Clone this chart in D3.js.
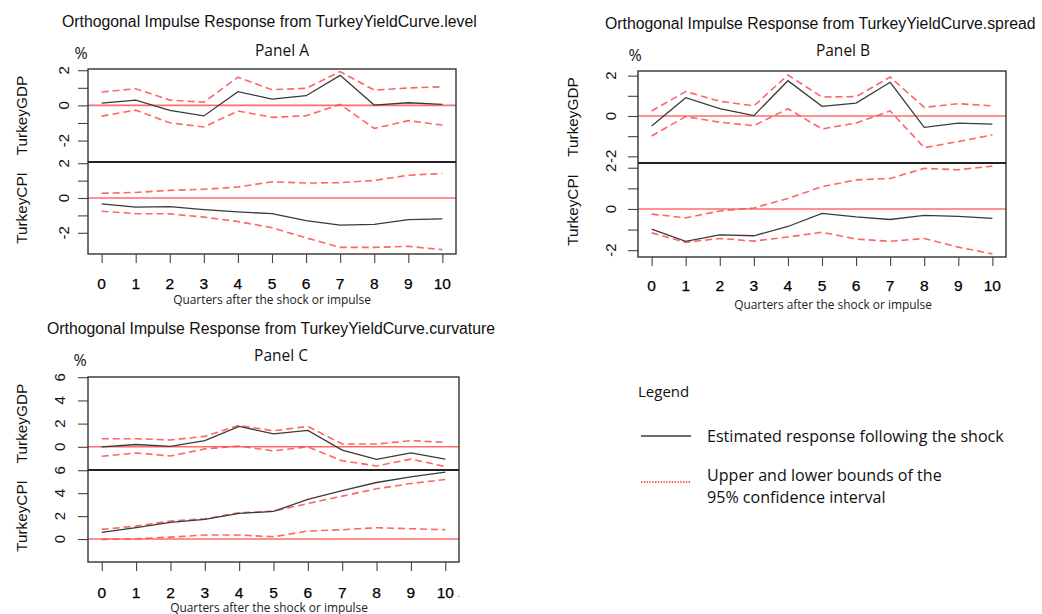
<!DOCTYPE html>
<html>
<head>
<meta charset="utf-8">
<script src="https://cdn.jsdelivr.net/npm/d3@7"></script>
<style>
  html, body { margin: 0; padding: 0; background: #ffffff; }
  svg { display: block; }
</style>
</head>
<body>
<svg id="chart" width="1042" height="614"></svg>
<script>
// Horizon (quarters after the shock)
const quarters = [0, 1, 2, 3, 4, 5, 6, 7, 8, 9, 10];

// Shock to TurkeyYieldCurve.level
const levelGdpResp  = [0.13, 0.30, -0.29, -0.60, 0.78, 0.36, 0.55, 1.71, 0.02, 0.15, 0.06];
const levelGdpUpper = [0.76, 0.95, 0.30, 0.18, 1.60, 0.89, 0.97, 1.92, 0.87, 0.99, 1.06];
const levelGdpLower = [-0.61, -0.27, -0.99, -1.23, -0.32, -0.68, -0.59, 0.06, -1.31, -0.87, -1.12];
const levelCpiResp  = [-0.34, -0.53, -0.50, -0.67, -0.80, -0.90, -1.30, -1.56, -1.52, -1.24, -1.20];
const levelCpiUpper = [0.27, 0.32, 0.44, 0.50, 0.63, 0.93, 0.86, 0.88, 1.01, 1.31, 1.41];
const levelCpiLower = [-0.76, -0.90, -0.91, -1.10, -1.35, -1.71, -2.29, -2.84, -2.84, -2.78, -2.97];

// Shock to TurkeyYieldCurve.spread
const spreadGdpResp  = [-0.50, 0.91, 0.36, 0.02, 1.75, 0.48, 0.64, 1.67, -0.56, -0.35, -0.40];
const spreadGdpUpper = [0.25, 1.21, 0.73, 0.50, 2.03, 0.94, 0.96, 1.93, 0.43, 0.61, 0.50];
const spreadGdpLower = [-0.99, -0.03, -0.31, -0.48, 0.36, -0.64, -0.35, 0.25, -1.57, -1.27, -0.94];
const spreadCpiResp  = [-0.98, -1.57, -1.26, -1.30, -0.85, -0.21, -0.38, -0.51, -0.31, -0.36, -0.46];
const spreadCpiUpper = [-0.25, -0.43, -0.10, 0.05, 0.51, 1.08, 1.41, 1.48, 1.97, 1.90, 2.08];
const spreadCpiLower = [-1.16, -1.62, -1.43, -1.56, -1.36, -1.13, -1.46, -1.57, -1.43, -1.85, -2.18];

// Shock to TurkeyYieldCurve.curvature
const curvGdpResp  = [0.00, 0.20, 0.03, 0.53, 1.76, 1.12, 1.41, -0.29, -1.09, -0.53, -1.06];
const curvGdpUpper = [0.70, 0.70, 0.59, 0.90, 1.85, 1.38, 1.76, 0.24, 0.24, 0.53, 0.38];
const curvGdpLower = [-0.82, -0.53, -0.79, -0.18, 0.06, -0.35, 0.00, -1.20, -1.65, -1.06, -1.70];
const curvCpiResp  = [0.58, 0.99, 1.45, 1.71, 2.23, 2.41, 3.45, 4.23, 4.93, 5.42, 5.83];
const curvCpiUpper = [0.84, 1.13, 1.57, 1.77, 2.29, 2.43, 3.10, 3.74, 4.38, 4.84, 5.19];
const curvCpiLower = [-0.03, 0.03, 0.17, 0.35, 0.35, 0.20, 0.70, 0.81, 0.99, 0.90, 0.81];

// Axis ticks
const ticksLevelSpread  = [-2, -1, 0, 1, 2];
const labelsLevelSpread = [-2, 0, 2];
const ticksCurvature    = [0, 2, 4, 6];
const labelsCurvature   = [0, 2, 4, 6];

// Text
const variableNames = ["TurkeyGDP", "TurkeyCPI"];
const xAxisTitle = "Quarters after the shock or impulse";
const legendTitle = "Legend";
const legendItems = ["Estimated response following the shock", "Upper and lower bounds of the", "95% confidence interval"];

const svg = d3.select("#chart");
const ARIAL = "'Liberation Sans', Arial, sans-serif";
const SEGOE = "'Open Sans', 'Noto Sans', sans-serif";

function fitWidth(sel, w) {
  const node = sel.node();
  const fs = parseFloat(sel.attr("font-size"));
  const len = node.getComputedTextLength();
  if (len > 0) sel.attr("font-size", (fs * w / len).toFixed(2));
  return sel;
}

function drawPanel(p) {
  const g = svg.append("g");
  const x = d3.scaleLinear().domain([-0.4, 10.4]).range([p.left, p.right]);

  // Title and panel label
  g.append("text").attr("x", p.titleX).attr("y", p.titleY)
    .attr("font-family", ARIAL).attr("font-size", 15.8).attr("fill", "#111")
    .attr("dominant-baseline", "central").text(p.title);
  g.append("text").attr("x", p.panelX).attr("y", p.panelY)
    .attr("font-family", SEGOE).attr("font-size", 15.5).attr("fill", "#111")
    .attr("text-anchor", "middle").attr("dominant-baseline", "central").text(p.panel);
  g.append("text").attr("x", p.pctX).attr("y", p.pctY)
    .attr("font-family", SEGOE).attr("font-size", 16).attr("fill", "#111")
    .attr("text-anchor", "middle").attr("dominant-baseline", "central").text("%");

  const bands = [
    { top: p.top, bottom: p.mid, series: p.gdp, name: variableNames[0] },
    { top: p.mid, bottom: p.bottom, series: p.cpi, name: variableNames[1] }
  ];

  bands.forEach(b => {
    const y = d3.scaleLinear().domain(p.yDomain).range([b.bottom, b.top]);

    // zero reference line
    g.append("line")
      .attr("x1", p.left).attr("x2", p.right)
      .attr("y1", y(0)).attr("y2", y(0))
      .attr("stroke", "#ff3b3b").attr("stroke-opacity", 0.75).attr("stroke-width", 1.6);

    const line = d3.line().x((d, i) => x(quarters[i])).y(d => y(d));
    [b.series.upper, b.series.lower].forEach(s => {
      g.append("path").datum(s).attr("d", line)
        .attr("fill", "none").attr("stroke", "#ff4a4a").attr("stroke-opacity", 0.85)
        .attr("stroke-width", 1.6).attr("stroke-dasharray", "7,4");
    });
    g.append("path").datum(b.series.resp).attr("d", line)
      .attr("fill", "none").attr("stroke", "#3a3a3a").attr("stroke-width", 1.3);

    // y axis ticks and rotated labels
    const axis = d3.axisLeft(y).tickValues(p.ticks).tickSize(10).tickFormat("");
    const ag = g.append("g").attr("transform", `translate(${p.left},0)`).call(axis);
    ag.select(".domain").remove();
    ag.selectAll(".tick line").attr("stroke", "#444").attr("stroke-width", 1.1);
    p.labels.forEach(v => {
      g.append("text")
        .attr("transform", `translate(${p.left - p.labelOffset},${y(v)}) rotate(-90)`)
        .attr("font-family", ARIAL).attr("font-size", 15).attr("fill", "#111")
        .attr("text-anchor", "middle").attr("dominant-baseline", "central")
        .text(v);
    });

    // variable name
    g.append("text")
      .attr("transform", `translate(${p.nameX},${(b.top + b.bottom) / 2}) rotate(-90)`)
      .attr("font-family", ARIAL).attr("font-size", 15.3).attr("fill", "#111")
      .attr("text-anchor", "middle").attr("dominant-baseline", "central")
      .text(b.name);
  });

  // frame and divider
  g.append("rect").attr("x", p.left).attr("y", p.top)
    .attr("width", p.right - p.left).attr("height", p.bottom - p.top)
    .attr("fill", "none").attr("stroke", "#333").attr("stroke-width", 1.4);
  g.append("line").attr("x1", p.left).attr("x2", p.right)
    .attr("y1", p.mid).attr("y2", p.mid)
    .attr("stroke", "#222").attr("stroke-width", 1.8);

  // x axis
  const xa = d3.axisBottom(x).tickValues(quarters).tickSize(9).tickFormat("");
  const xg = g.append("g").attr("transform", `translate(0,${p.bottom})`).call(xa);
  xg.select(".domain").remove();
  xg.selectAll(".tick line").attr("stroke", "#444").attr("stroke-width", 1.1);
  quarters.forEach(q => {
    g.append("text").attr("x", x(q)).attr("y", p.bottom + p.xLabelOffset)
      .attr("font-family", ARIAL).attr("font-size", 15.5).attr("fill", "#000")
      .attr("stroke", "#000").attr("stroke-width", 0.25)
      .attr("text-anchor", "middle").attr("dominant-baseline", "central")
      .text(q);
  });
  const xt = g.append("text").attr("x", p.xTitleX).attr("y", p.bottom + p.xTitleOffset)
    .attr("font-family", SEGOE).attr("font-size", 12).attr("fill", "#222")
    .attr("text-anchor", "middle").attr("dominant-baseline", "central")
    .text(xAxisTitle);
  fitWidth(xt, 198);
  return { g, x };
}

drawPanel({
  title: "Orthogonal Impulse Response from TurkeyYieldCurve.level",
  titleX: 62, titleY: 21, panel: "Panel A", panelX: 282, panelY: 50, pctX: 81, pctY: 53,
  left: 88, right: 456, top: 69, mid: 162, bottom: 254,
  yDomain: [-3.22, 2.07], ticks: ticksLevelSpread, labels: labelsLevelSpread,
  labelOffset: 25, nameX: 21, xLabelOffset: 29, xTitleX: 272, xTitleOffset: 45,
  gdp: { resp: levelGdpResp, upper: levelGdpUpper, lower: levelGdpLower },
  cpi: { resp: levelCpiResp, upper: levelCpiUpper, lower: levelCpiLower }
});

drawPanel({
  title: "Orthogonal Impulse Response from TurkeyYieldCurve.spread",
  titleX: 605, titleY: 23, panel: "Panel B", panelX: 843, panelY: 50, pctX: 635, pctY: 55,
  left: 638, right: 1006, top: 71, mid: 163, bottom: 257,
  yDomain: [-2.33, 2.23], ticks: ticksLevelSpread, labels: labelsLevelSpread,
  labelOffset: 28, nameX: 572, xLabelOffset: 28, xTitleX: 833, xTitleOffset: 47,
  gdp: { resp: spreadGdpResp, upper: spreadGdpUpper, lower: spreadGdpLower },
  cpi: { resp: spreadCpiResp, upper: spreadCpiUpper, lower: spreadCpiLower }
});

const panelC = drawPanel({
  title: "Orthogonal Impulse Response from TurkeyYieldCurve.curvature",
  titleX: 47, titleY: 328, panel: "Panel C", panelX: 281, panelY: 355, pctX: 80, pctY: 360,
  left: 88, right: 459, top: 377, mid: 470, bottom: 562,
  yDomain: [-2.0, 6.02], ticks: ticksCurvature, labels: labelsCurvature,
  labelOffset: 29, nameX: 21, xLabelOffset: 30, xTitleX: 269, xTitleOffset: 45,
  gdp: { resp: curvGdpResp, upper: curvGdpUpper, lower: curvGdpLower },
  cpi: { resp: curvCpiResp, upper: curvCpiUpper, lower: curvCpiLower }
});
// trailing full stop after the last quarter label
panelC.g.append("text").attr("x", panelC.x(10) + 12).attr("y", 597)
  .attr("font-family", ARIAL).attr("font-size", 10).attr("fill", "#555").text(".");

// Legend
const lg = svg.append("g");
lg.append("text").attr("x", 638).attr("y", 391)
  .attr("font-family", SEGOE).attr("font-size", 15).attr("fill", "#111")
  .attr("dominant-baseline", "central").text(legendTitle);
lg.append("line").attr("x1", 641).attr("x2", 691).attr("y1", 436).attr("y2", 436)
  .attr("stroke", "#3a3a3a").attr("stroke-width", 1.3);
const t1 = lg.append("text").attr("x", 707).attr("y", 436)
  .attr("font-family", SEGOE).attr("font-size", 15).attr("fill", "#111")
  .attr("dominant-baseline", "central").text(legendItems[0]);
fitWidth(t1, 297);
const fsLegend = t1.attr("font-size");
lg.append("line").attr("x1", 641).attr("x2", 691).attr("y1", 482).attr("y2", 482)
  .attr("stroke", "#ff2a2a").attr("stroke-width", 1.6).attr("stroke-dasharray", "1.4,1.4");
lg.append("text").attr("x", 707).attr("y", 475)
  .attr("font-family", SEGOE).attr("font-size", fsLegend).attr("fill", "#111")
  .attr("dominant-baseline", "central").text(legendItems[1]);
lg.append("text").attr("x", 707).attr("y", 497)
  .attr("font-family", SEGOE).attr("font-size", fsLegend).attr("fill", "#111")
  .attr("dominant-baseline", "central").text(legendItems[2]);
</script>
</body>
</html>
